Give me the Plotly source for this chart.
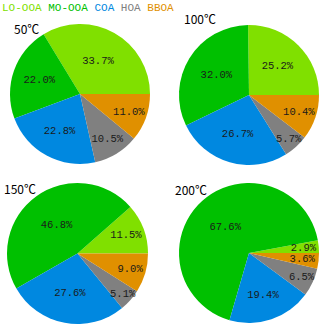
import plotly.graph_objects as go

# OA factor fractions (%) at each thermodenuder temperature
factors = ["LO-OOA", "MO-OOA", "COA", "HOA", "BBOA"]
colors = ["#80E000", "#00C000", "#0088E0", "#808080", "#E09000"]
temps = ["50℃", "100℃", "150℃", "200℃"]
t50 = [33.7, 22.0, 22.8, 10.5, 11.0]
t100 = [25.2, 32.0, 26.7, 5.7, 10.4]
t150 = [11.5, 46.8, 27.6, 5.1, 9.0]
t200 = [2.9, 67.6, 19.4, 6.5, 3.6]

W, H = 320, 325
# pie boxes in pixels: (left, top, size)
boxes = [(10, 24, 140), (179, 25, 140), (7, 183, 141), (179, 183, 140)]
txtfont = dict(family="Liberation Mono", size=10.5, color="#1a1a1a")


def dom(l, t, s):
    return dict(x=[l / W, (l + s) / W], y=[1 - (t + s) / H, 1 - t / H])


fig = go.Figure()
for vals, (l, t, s) in zip([t50, t100, t150, t200], boxes):
    # first slice starts at 3 o'clock and runs counterclockwise
    rot = 90 - 360 * vals[0] / sum(vals)
    small = [v < 5 for v in vals]
    fig.add_trace(go.Pie(
        labels=factors, values=vals, sort=False,
        direction="counterclockwise", rotation=rot,
        marker=dict(colors=colors, line=dict(width=0)),
        texttemplate=["" if sm else "%{value:.1f}%" for sm in small],
        textposition="inside", insidetextorientation="horizontal",
        textfont=txtfont, domain=dom(l, t, s),
        showlegend=False, hoverinfo="label+percent",
    ))
    if any(small):
        # labels of thin slices sit a little further in, so they stay on the page
        d = 20
        fig.add_trace(go.Pie(
            labels=factors, values=vals, sort=False,
            direction="counterclockwise", rotation=rot,
            marker=dict(colors=["rgba(0,0,0,0)"] * len(vals), line=dict(width=0)),
            texttemplate=["%{value:.1f}%" if sm else "" for sm in small],
            textposition="inside", insidetextorientation="horizontal",
            textfont=txtfont, domain=dom(l + d / 2, t + d / 2, s - d),
            showlegend=False, hoverinfo="skip",
        ))

legend_html = " ".join(
    f"<span style='color:{c}'>{f}</span>" for f, c in zip(factors, colors))
fig.add_annotation(text=legend_html, x=0, y=1 - 8 / H, xref="paper", yref="paper",
                   xanchor="left", yanchor="middle", showarrow=False,
                   font=dict(family="Liberation Mono", size=11))

label_pos = [(12, 29), (182, 19), (2, 188), (173, 189)]
for txt, (x, y) in zip(temps, label_pos):
    fig.add_annotation(text=txt, x=x / W, y=1 - y / H, xref="paper", yref="paper",
                       xanchor="left", yanchor="middle", showarrow=False,
                       font=dict(family="Noto Sans CJK SC", size=12, color="black"))

fig.update_layout(width=W, height=H, margin=dict(l=0, r=0, t=0, b=0),
                  paper_bgcolor="white", plot_bgcolor="white",
                  uniformtext=dict(minsize=10.5, mode="show"))
fig.write_html("out.html", config={"displayModeBar": False},
               post_script="document.body.style.margin='0';")
